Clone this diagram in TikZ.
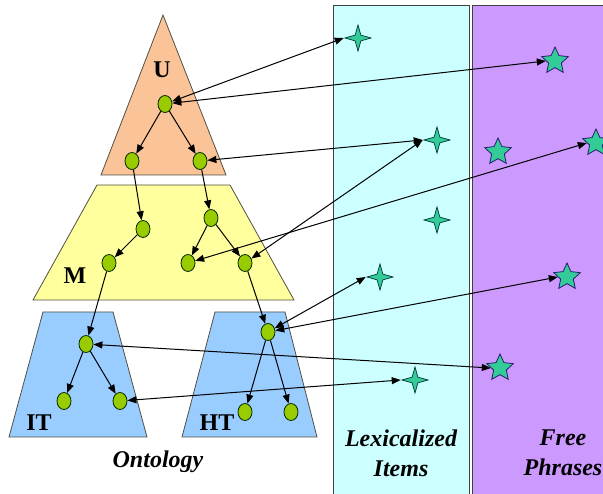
\documentclass[tikz,border=0pt]{standalone}
\usepackage{fontspec}
\setmainfont{Liberation Serif}
\usetikzlibrary{arrows.meta, shapes.geometric}
\definecolor{ontU}{RGB}{250,195,152}
\definecolor{ontM}{RGB}{255,255,158}
\definecolor{ontT}{RGB}{153,204,255}
\definecolor{lexbg}{RGB}{204,255,255}
\definecolor{freebg}{RGB}{204,153,255}
\definecolor{cgreen}{RGB}{153,204,0}
\definecolor{stargreen}{RGB}{51,204,153}
\definecolor{starline}{RGB}{40,30,110}
\definecolor{border}{RGB}{80,80,70}

\begin{document}
\begin{tikzpicture}[
    x=1pt, y=-1pt,
    layer/.style={draw=border, line width=0.8pt},
    colbox/.style={draw=black!75, line width=0.9pt},
    cnode/.style={
        ellipse,
        draw=black!85!green,
        line width=0.8pt,
        fill=cgreen,
        minimum width=14pt,
        minimum height=17pt,
        inner sep=0pt
    },
    lexstar/.style={
        star, star points=4, star point ratio=3.2,
        draw=teal!40!black, fill=stargreen,
        line width=0.7pt, minimum size=26pt, inner sep=0pt
    },
    freestar/.style={
        star, star points=5, star point ratio=2.1,
        draw=starline, fill=stargreen,
        line width=0.8pt, minimum size=28pt, inner sep=0pt
    },
    branch/.style={-{Triangle[length=9pt,width=7pt]}, line width=1pt},
    mapping/.style={{Triangle[length=9pt,width=7pt]}-{Triangle[length=9pt,width=7pt]}, line width=1pt},
    lbl/.style={font=\fontsize{24}{28}\selectfont\bfseries, inner sep=0pt},
    colname/.style={font=\fontsize{24}{30}\selectfont\bfseries\itshape, align=center, inner sep=0pt}
]
\useasboundingbox (0,0) rectangle (603,494);

% columns
\fill[lexbg] (333,5) rectangle (469,500);
\draw[colbox] (333,500) |- (469,5) -- (469,500);
\fill[freebg] (472,5) rectangle (610,500);
\draw[colbox] (472,500) |- (610,5);

% ontology layers
\draw[layer, fill=ontU] (163,15) -- (226,175) -- (101,175) -- cycle;
\draw[layer, fill=ontM] (97,185) -- (230,185) -- (294,300) -- (33,300) -- cycle;
\draw[layer, fill=ontT] (43,312) -- (113,312) -- (147,437) -- (9,437) -- cycle;
\draw[layer, fill=ontT] (215,312) -- (285,312) -- (317,437) -- (182,437) -- cycle;

\node[lbl] (lU) at (162,70) {U};
\node[lbl] (lM) at (75,276) {M};
\node[lbl] (lIT) at (39,423) {IT};
\node[lbl] (lHT) at (217,423) {HT};
\node[colname] (onto) at (158,462) {Ontology};
\node[colname] (lexname) at (401,453) {Lexicalized\\Items};
\node[colname] (freename) at (563,453) {Free\\Phrases};

% concepts
\node[cnode] (u0) at (165,104) {};
\node[cnode] (u1) at (132,161) {};
\node[cnode] (u2) at (200,161) {};
\node[cnode] (m1) at (143,229) {};
\node[cnode] (m2) at (211,218) {};
\node[cnode] (m3) at (109,263) {};
\node[cnode] (m4) at (188,263) {};
\node[cnode] (m5) at (245,263) {};
\node[cnode] (it0) at (86,344) {};
\node[cnode] (it1) at (64,401) {};
\node[cnode] (it2) at (120,401) {};
\node[cnode] (ht0) at (268,332) {};
\node[cnode] (ht1) at (245,412) {};
\node[cnode] (ht2) at (291,412) {};

% lexicalized items and free phrases
\node[lexstar] (lex1) at (358,38) {};
\node[lexstar] (lex2) at (437,140) {};
\node[lexstar] (lex3) at (437,220) {};
\node[lexstar] (lex4) at (380,277) {};
\node[lexstar] (lex5) at (415,380) {};
\node[freestar] (free1) at (555,61) {};
\node[freestar] (free2) at (498,152) {};
\node[freestar] (free3) at (596,143) {};
\node[freestar] (free4) at (567,277) {};
\node[freestar] (free5) at (500,368) {};

% hierarchy
\draw[branch] (u0) -- (u1);
\draw[branch] (u0) -- (u2);
\draw[branch] (u1) -- (m1);
\draw[branch] (u2) -- (m2);
\draw[branch] (m1) -- (m3);
\draw[branch] (m2) -- (m4);
\draw[branch] (m2) -- (m5);
\draw[branch] (m3) -- (it0);
\draw[branch] (m5) -- (ht0);
\draw[branch] (it0) -- (it1);
\draw[branch] (it0) -- (it2);
\draw[branch] (ht0) -- (ht1);
\draw[branch] (ht0) -- (ht2);

% mappings
\draw[mapping] (u0) -- (lex1.west);
\draw[mapping] (u0) -- (free1.west);
\draw[mapping] (u2) -- (lex2.west);
\draw[mapping] (m5) -- (lex2.west);
\draw[mapping] (m4) -- (free3.west);
\draw[mapping] (ht0) -- (lex4.west);
\draw[mapping] (ht0) -- (free4.west);
\draw[mapping] (it0) -- (free5.west);
\draw[mapping] (it2) -- (lex5.west);

\end{tikzpicture}
\end{document}
